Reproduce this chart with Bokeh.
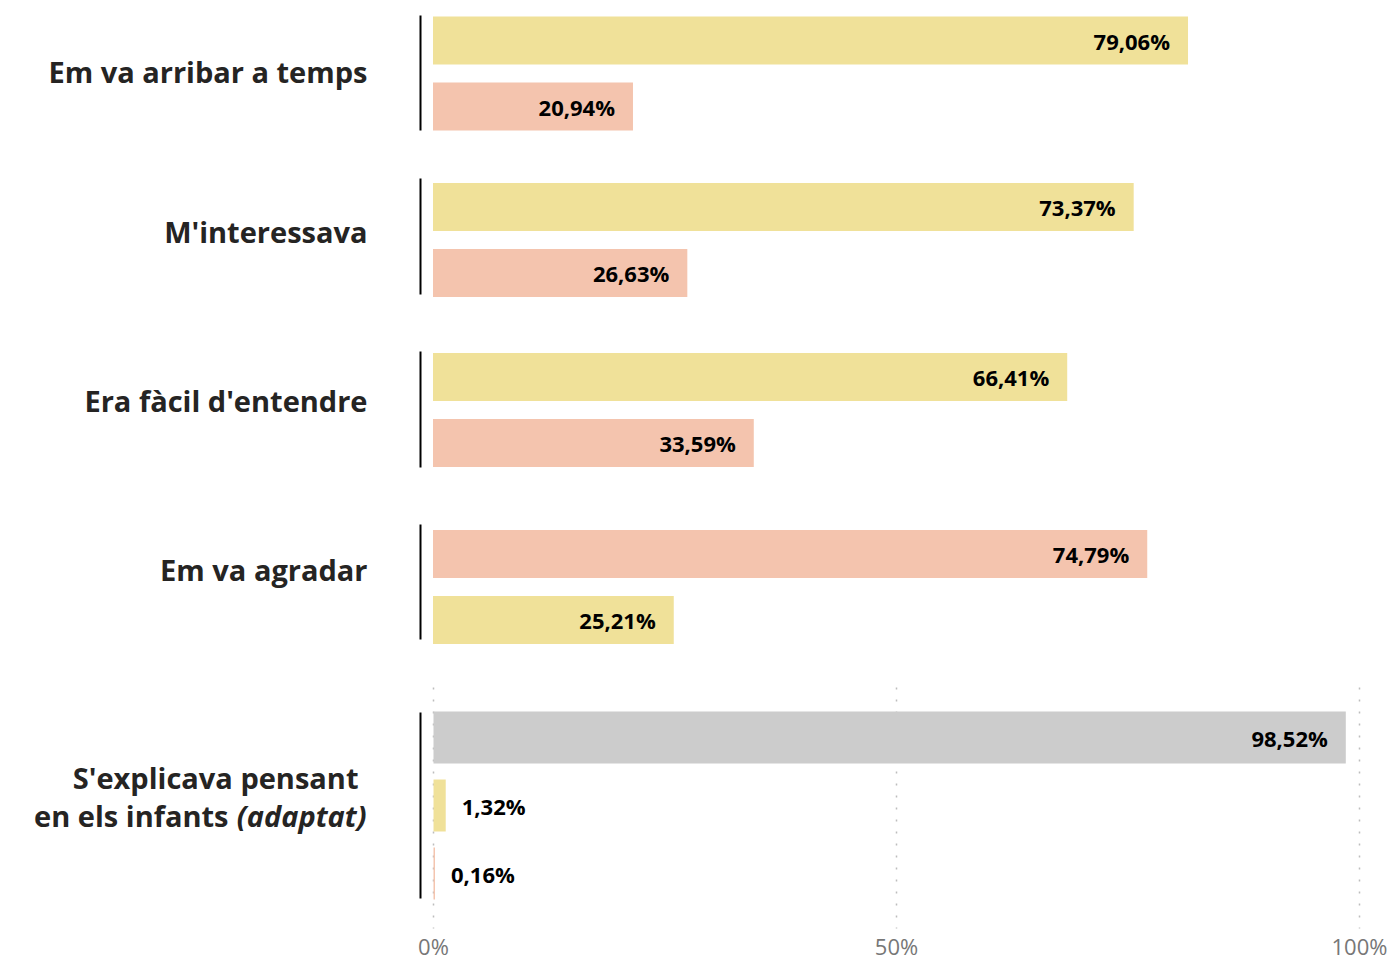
from bokeh.plotting import figure
from bokeh.models import Range1d, ColumnDataSource
from bokeh.core.properties import value
from bokeh.embed import file_html
from bokeh.resources import INLINE

# ---------------- data ----------------
categories = [
    "Em va arribar a temps",
    "M'interessava",
    "Era fàcil d'entendre",
    "Em va agradar",
    "S'explicava pensant en els infants (adaptat)",
]
arribar_values = [79.06, 20.94]
arribar_series = ["groc", "rosa"]
interessava_values = [73.37, 26.63]
interessava_series = ["groc", "rosa"]
facil_values = [66.41, 33.59]
facil_series = ["groc", "rosa"]
agradar_values = [74.79, 25.21]
agradar_series = ["rosa", "groc"]
infants_values = [98.52, 1.32, 0.16]
infants_series = ["gris", "groc", "rosa"]
x_ticks = [0, 50, 100]
x_tick_labels = ["0%", "50%", "100%"]

series_colors = {"groc": "#F0E199", "rosa": "#F4C4AE", "gris": "#CCCCCC"}

groups = [
    (arribar_values, arribar_series),
    (interessava_values, interessava_series),
    (facil_values, facil_series),
    (agradar_values, agradar_series),
    (infants_values, infants_series),
]

# ---------------- layout ----------------
PAGE_X0, PAGE_Y0 = 0, 0
W, H = 1390, 962
LOWER_ZERO_PX, LOWER_PX_PER_UNIT = 433.0, 9.26   # panel with the axis
UPPER_ZERO_PX, UPPER_PX_PER_UNIT = 432.5, 9.55   # four upper panels

group_center_px = [73, 239.5, 409.5, 586.5, 805]
bar_pitch_px = [66, 66, 66, 66, 68]
bar_height_px = [48, 48, 48, 48, 52]
rule_center_px = [72.5, 236, 409, 581.5, 805]
rule_half_px = [57.5, 58, 58, 57.5, 93]
label_baseline_px = [84, 244, 413, 582]
multi_label_baseline_px = [790, 828]
grid_top_px, grid_bottom_px = 687, 928
tick_baseline_px = 955
BASELINE_FIX = 0.45  # svg text sits ~0.45em below the requested baseline

FONT = "Open Sans"
LABEL_COLOR = "#252423"
LABEL_SIZE = 29
VALUE_SIZE = 22
TICK_SIZE = 22

x_range = Range1d((PAGE_X0 - LOWER_ZERO_PX) / LOWER_PX_PER_UNIT,
                  (PAGE_X0 + W - LOWER_ZERO_PX) / LOWER_PX_PER_UNIT)
upper_range = Range1d((PAGE_X0 - UPPER_ZERO_PX) / UPPER_PX_PER_UNIT,
                      (PAGE_X0 + W - UPPER_ZERO_PX) / UPPER_PX_PER_UNIT)
y_range = Range1d(PAGE_Y0 + H, PAGE_Y0)  # data y == page pixel row

p = figure(width=W, height=H, x_range=x_range, y_range=y_range,
           x_axis_location=None, y_axis_location=None,
           toolbar_location=None, output_backend="svg", min_border=0)
p.extra_x_ranges = {"upper": upper_range}
p.outline_line_color = None
p.background_fill_color = "white"
p.border_fill_color = "white"
p.grid.visible = False

# dotted grid lines for the bottom panel
p.segment(x0=x_ticks, x1=x_ticks, y0=[grid_top_px] * len(x_ticks),
          y1=[grid_bottom_px] * len(x_ticks), line_color="#BDBDBD",
          line_width=1.5, line_dash="2 10")

for gi, (vals, sers) in enumerate(groups):
    rng = "upper" if gi < 4 else "default"
    ppu = UPPER_PX_PER_UNIT if gi < 4 else LOWER_PX_PER_UNIT
    n = len(vals)
    ys = [group_center_px[gi] + (j - (n - 1) / 2) * bar_pitch_px[gi] for j in range(n)]
    src = ColumnDataSource(dict(
        y=ys, right=vals, color=[series_colors[s] for s in sers],
    ))
    p.hbar(y="y", left=0, right="right", height=bar_height_px[gi],
           fill_color="color", line_color=None, source=src, x_range_name=rng)

    inside = [v * ppu > 100 for v in vals]
    lab = ColumnDataSource(dict(
        x=vals,
        y=[y + 10 - BASELINE_FIX * VALUE_SIZE for y in ys],
        text=[("%.2f%%" % v).replace(".", ",") for v in vals],
        align=["right" if i else "left" for i in inside],
        xoff=[-18 if i else 16 for i in inside],
    ))
    p.text(x="x", y="y", text="text", x_offset="xoff", text_align="align",
           text_baseline="alphabetic", text_font=value(FONT),
           text_font_style="bold", text_font_size="%dpx" % VALUE_SIZE,
           text_color="#000000", source=lab, x_range_name=rng)

    # black rule to the left of each panel
    rx = -13 / LOWER_PX_PER_UNIT
    p.segment(x0=[rx], x1=[rx], y0=[rule_center_px[gi] - rule_half_px[gi]],
              y1=[rule_center_px[gi] + rule_half_px[gi]],
              line_color="#000000", line_width=2)

lab_fix = BASELINE_FIX * LABEL_SIZE
# category labels
p.text(x=[0] * 4, y=[b - lab_fix for b in label_baseline_px], text=categories[:4],
       x_offset=-66, text_align="right", text_baseline="alphabetic",
       text_font=value(FONT), text_font_style="bold",
       text_font_size="%dpx" % LABEL_SIZE, text_color=LABEL_COLOR)

p.text(x=[0], y=[multi_label_baseline_px[0] - lab_fix], text=["S'explicava pensant"],
       x_offset=-75, text_align="right", text_baseline="alphabetic",
       text_font=value(FONT), text_font_style="bold",
       text_font_size="%dpx" % LABEL_SIZE, text_color=LABEL_COLOR)
p.text(x=[0], y=[multi_label_baseline_px[1] - lab_fix], text=["en els infants"],
       x_offset=-205, text_align="right", text_baseline="alphabetic",
       text_font=value(FONT), text_font_style="bold",
       text_font_size="%dpx" % LABEL_SIZE, text_color=LABEL_COLOR)
p.text(x=[0], y=[multi_label_baseline_px[1] - lab_fix], text=["(adaptat)"],
       x_offset=-67, text_align="right", text_baseline="alphabetic",
       text_font=value(FONT), text_font_style="bold italic",
       text_font_size="%dpx" % LABEL_SIZE, text_color=LABEL_COLOR)

# x tick labels
p.text(x=x_ticks, y=[tick_baseline_px - BASELINE_FIX * TICK_SIZE] * len(x_ticks),
       text=x_tick_labels, text_align="center", text_baseline="alphabetic",
       text_font=value(FONT), text_font_size="%dpx" % TICK_SIZE,
       text_color="#777777")

open("out.html", "w").write(file_html(p, INLINE))
